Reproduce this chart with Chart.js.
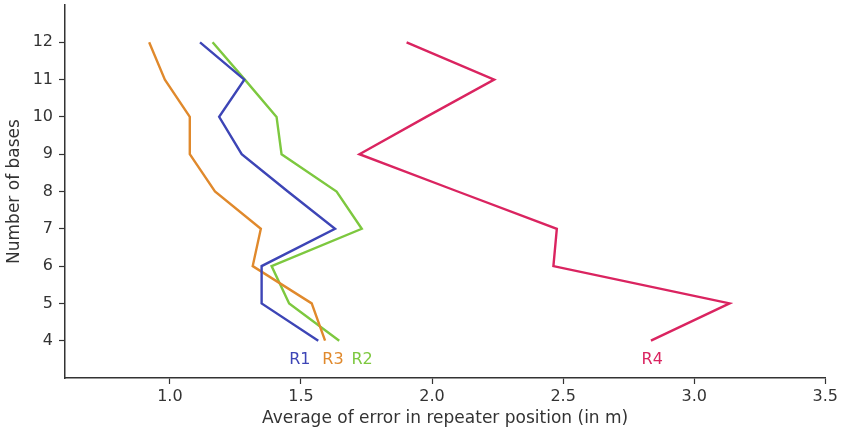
<!DOCTYPE html>
<html>
<head>
<meta charset="utf-8">
<script src="https://cdn.jsdelivr.net/npm/chart.js@4"></script>
<style>
  html, body { margin: 0; padding: 0; background: #fff; }
  #wrap { width: 841px; height: 435px; }
</style>
</head>
<body>
<div id="wrap"><canvas id="myChart"></canvas></div>
<script>
// number of bases (y) for every point
const bases = [12, 11, 10, 9, 8, 7, 6, 5, 4];

// average error in repeater position (x)
const r1 = [1.115, 1.284, 1.188, 1.274, 1.450, 1.630, 1.350, 1.350, 1.566];
const r2 = [1.163, 1.286, 1.407, 1.426, 1.636, 1.732, 1.388, 1.455, 1.646];
const r3 = [0.921, 0.981, 1.076, 1.076, 1.172, 1.347, 1.316, 1.541, 1.592];
const r4 = [1.903, 2.237, 1.978, 1.723, 2.098, 2.476, 2.463, 3.135, 2.835];

const seriesNames = ["R1", "R3", "R2", "R4"];
const seriesColors = ["#3d45b6", "#e0892c", "#7dc83f", "#da2460"];
const seriesValues = [r1, r3, r2, r4];

// where the series names are written under the lines
const labelX = [1.496, 1.622, 1.733, 2.84];
const labelY = 3.5;

const xTicks = [1.0, 1.5, 2.0, 2.5, 3.0, 3.5];
const yTicks = [4, 5, 6, 7, 8, 9, 10, 11, 12];

const datasets = seriesValues.map((vals, i) => ({
  label: seriesNames[i],
  data: vals.map((v, j) => ({ x: v, y: bases[j] })),
  showLine: true,
  borderColor: seriesColors[i],
  backgroundColor: seriesColors[i],
  borderWidth: 2.4,
  pointRadius: 0,
  tension: 0
}));

// writes R1, R3... in the series colour, like the annotations of the original
const seriesText = {
  id: "seriesText",
  afterDatasetsDraw(chart) {
    const ctx = chart.ctx;
    const xs = chart.scales.x, ys = chart.scales.y;
    ctx.save();
    ctx.font = "16px 'DejaVu Sans'";
    ctx.textAlign = "center";
    ctx.textBaseline = "middle";
    seriesNames.forEach((name, i) => {
      ctx.fillStyle = seriesColors[i];
      ctx.fillText(name, xs.getPixelForValue(labelX[i]), ys.getPixelForValue(labelY));
    });
    ctx.restore();
  }
};

const config = {
  type: "scatter",
  data: { datasets: datasets },
  options: {
    responsive: true,
    maintainAspectRatio: false,
    animation: false,
    layout: { padding: { top: 5, right: 15, left: 0, bottom: 0 } },
    plugins: { legend: { display: false }, tooltip: { enabled: false } },
    scales: {
      x: {
        type: "linear",
        min: 0.6,
        max: 3.5,
        afterBuildTicks: s => { s.ticks = xTicks.map(v => ({ value: v })); },
        afterFit: s => { s.height = 57; },
        ticks: {
          color: "#333",
          font: { family: "DejaVu Sans", size: 16 },
          padding: 3,
          maxRotation: 0,
          callback: v => v.toFixed(1)
        },
        grid: { drawOnChartArea: false, tickLength: 6, color: "#333", tickWidth: 1.2 },
        border: { color: "#333", width: 1.5 },
        title: {
          display: true,
          text: "Average of error in repeater position (in m)",
          color: "#333",
          font: { family: "DejaVu Sans", size: 17 },
          padding: { top: 0, bottom: 6 }
        }
      },
      y: {
        type: "linear",
        min: 3,
        max: 13,
        afterBuildTicks: s => { s.ticks = yTicks.map(v => ({ value: v })); },
        afterFit: s => { s.width = 65; s.paddingTop = 0; s.paddingBottom = 0; },
        ticks: {
          color: "#333",
          font: { family: "DejaVu Sans", size: 16 },
          padding: 6
        },
        grid: { drawOnChartArea: false, tickLength: 6, color: "#333", tickWidth: 1.2 },
        border: { color: "#333", width: 1.5 },
        title: {
          display: true,
          text: "Number of bases",
          color: "#333",
          font: { family: "DejaVu Sans", size: 17 },
          padding: { top: 4, bottom: 0 }
        }
      }
    }
  },
  plugins: [seriesText]
};

const context = document.getElementById("myChart");
const myChart = new Chart(context, config);
</script>
</body>
</html>
